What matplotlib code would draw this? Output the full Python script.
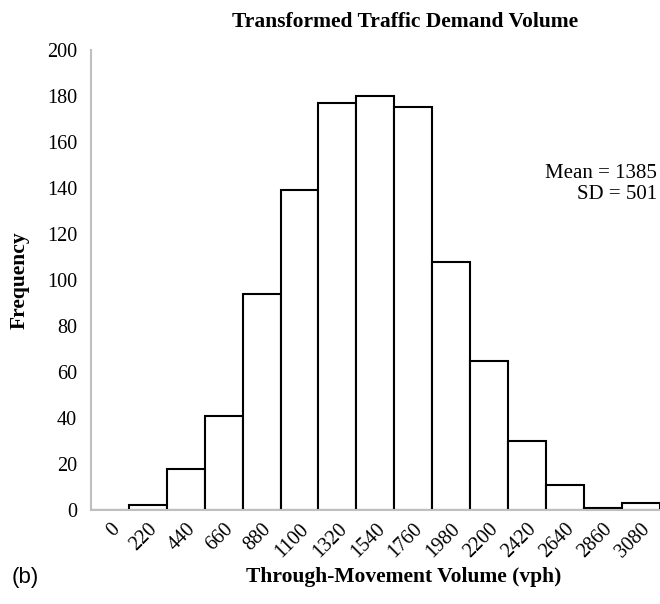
import matplotlib
matplotlib.use("Agg")
import matplotlib.pyplot as plt
import numpy as np

bin_labels = ["0", "220", "440", "660", "880", "1100", "1320", "1540", "1760",
              "1980", "2200", "2420", "2640", "2860", "3080"]
frequency = [0, 2, 18, 41, 94, 139, 177, 180, 175, 108, 65, 30, 11, 1, 3]

serif = ["Liberation Serif", "DejaVu Serif"]
fig = plt.figure(figsize=(6.6, 6.04), dpi=100)
ax = fig.add_axes([91/660, (604-510)/604, (660-91)/660 - 0.0005, (510-50)/604])

x = np.arange(len(bin_labels))
ax.bar(x, frequency, width=1.0, color="white", edgecolor="black", linewidth=1.5, zorder=3)
ax.set_xlim(-0.5, len(bin_labels) - 0.5)
ax.set_ylim(0, 200)
ax.set_yticks(range(0, 201, 20))
ax.set_xticks(x)
ax.set_xticklabels(bin_labels, rotation=45, ha="right", va="top", rotation_mode="anchor")
for lab in ax.get_xticklabels() + ax.get_yticklabels():
    lab.set_fontfamily(serif)
    lab.set_fontsize(14.5)
ax.tick_params(axis="both", length=0)
ax.tick_params(axis="y", pad=10)
ax.tick_params(axis="x", pad=7)
for s in ["top", "right"]:
    ax.spines[s].set_visible(False)
for s in ["left", "bottom"]:
    ax.spines[s].set_color("#bfbfbf")
    ax.spines[s].set_linewidth(1.5)
ax.spines["bottom"].set_zorder(4)

fig.text(405/660, 1 - 22/604, "Transformed Traffic Demand Volume", ha="center", va="center",
         fontfamily=serif, fontweight="bold", fontsize=15.5)
fig.text(404/660, 1 - 577/604, "Through-Movement Volume (vph)", ha="center", va="center",
         fontfamily=serif, fontweight="bold", fontsize=15.5)
fig.text(20/660, 1 - 280/604, "Frequency", ha="center", va="center", rotation=90,
         fontfamily=serif, fontweight="bold", fontsize=15.5)
fig.text(12/660, 1 - 577/604, "(b)", ha="left", va="center",
         fontfamily=["Liberation Sans", "DejaVu Sans"], fontsize=16)
fig.text(657/660, 1 - 184/604, "Mean = 1385\nSD = 501", ha="right", va="center",
         fontfamily=serif, fontsize=15, linespacing=1.2)

fig.savefig("out.png", dpi=100)
